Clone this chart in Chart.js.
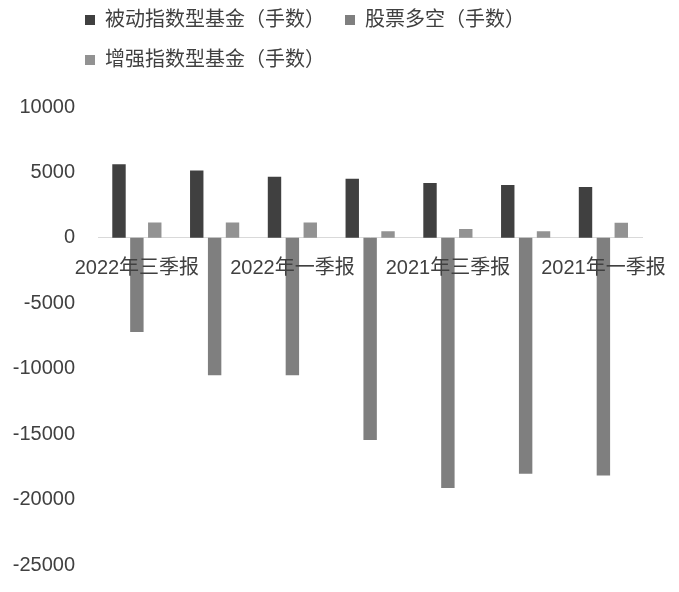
<!DOCTYPE html>
<html>
<head>
<meta charset="utf-8">
<script src="https://cdn.jsdelivr.net/npm/chart.js@4.4.1/dist/chart.umd.min.js"></script>
<style>
  html, body { margin: 0; padding: 0; background: #fff; }
  #wrap { width: 679px; height: 592px; }
</style>
</head>
<body>
<div id="wrap"><canvas id="holdChart"></canvas></div>
<script>
  // categories (report periods) and series values
  const periods = ["2022年三季报", "2022年二季报", "2022年一季报", "2021年四季报", "2021年三季报", "2021年二季报", "2021年一季报"];
  const passiveIndex = [5630, 5150, 4670, 4520, 4190, 4030, 3880];
  const longShort = [-7200, -10500, -10500, -15440, -19120, -18020, -18170];
  const enhancedIndex = [1170, 1170, 1170, 510, 670, 510, 1150];
  const yTicks = [10000, 5000, 0, -5000, -10000, -15000, -20000, -25000];

  const fontFamily = "'Liberation Sans', 'Noto Sans CJK SC', sans-serif";

  //---------------------------------------------------
  // move legend to the left like the original
  //---------------------------------------------------
  const legendShift = {
    id: "legendShift",
    afterLayout(chart) {
      const lg = chart.legend;
      if (!lg) return;
      lg.left += 65;
      lg.right += 65;
      lg.top -= 27;
      lg.bottom -= 27;
    },
  };

  const ctx = document.getElementById("holdChart");

  new Chart(ctx, {
    type: "bar",
    data: {
      labels: periods,
      datasets: [
        {
          label: "被动指数型基金（手数）",
          data: passiveIndex,
          backgroundColor: "#404040",
        },
        {
          label: "股票多空（手数）",
          data: longShort,
          backgroundColor: "#7f7f7f",
        },
        {
          label: "增强指数型基金（手数）",
          data: enhancedIndex,
          backgroundColor: "#929292",
        },
      ],
    },
    options: {
      responsive: true,
      maintainAspectRatio: false,
      animation: false,
      devicePixelRatio: 1,
      layout: { padding: { top: 17, right: 33, bottom: 13, left: 0 } },
      datasets: {
        bar: { categoryPercentage: 0.69, barPercentage: 0.75 },
      },
      plugins: {
        legend: {
          position: "top",
          align: "start",
          labels: {
            boxWidth: 10,
            boxHeight: 10,
            padding: 20,
            color: "#404040",
            font: { family: fontFamily, size: 20 },
          },
        },
        tooltip: { enabled: false },
      },
      scales: {
        x: {
          position: { y: 0 },
          grid: { display: false },
          border: { display: true, color: "#d9d9d9", width: 1 },
          ticks: {
            z: 1, // labels sit on top of the bars
            color: "#404040",
            padding: 11,
            maxRotation: 0,
            autoSkip: false,
            font: { family: fontFamily, size: 20 },
            callback: function (val, i) {
              return i % 2 === 0 ? periods[i] : "";
            },
          },
        },
        y: {
          min: -25000,
          max: 10000,
          grid: { display: false },
          border: { display: false },
          afterBuildTicks: function (scale) {
            scale.ticks = yTicks.map((v) => ({ value: v }));
          },
          afterFit: function (scale) {
            scale.width = 98;
          },
          ticks: {
            color: "#404040",
            padding: 15,
            font: { family: fontFamily, size: 20 },
            callback: function (v) {
              return String(v);
            },
          },
        },
      },
    },
    plugins: [legendShift],
  });
</script>
</body>
</html>
